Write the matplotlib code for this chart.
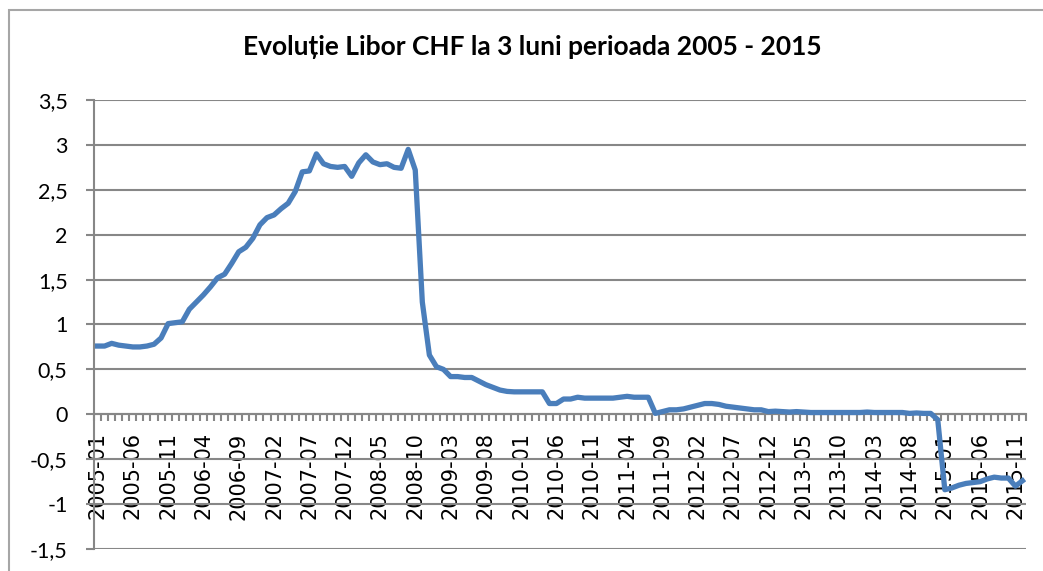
import numpy as np
import matplotlib as mpl
import matplotlib.pyplot as plt
from matplotlib.patches import Rectangle
from matplotlib.ticker import FixedLocator, FuncFormatter

# -- DATA -------------------------------------------------------------------

title = "Evoluție Libor CHF la 3 luni perioada 2005 - 2015"

months = ["%d-%02d" % (y, m) for y in range(2005, 2016) for m in range(1, 13)]

libor = [
    0.76, 0.76, 0.79, 0.77, 0.76, 0.75, 0.75, 0.76, 0.78, 0.85,
    1.01, 1.02, 1.03, 1.17, 1.25, 1.33, 1.42, 1.52, 1.56, 1.68,
    1.81, 1.86, 1.96, 2.11, 2.19, 2.22, 2.29, 2.35, 2.48, 2.70,
    2.71, 2.90, 2.79, 2.76, 2.75, 2.76, 2.65, 2.80, 2.89, 2.81,
    2.78, 2.79, 2.75, 2.74, 2.95, 2.72, 1.25, 0.66, 0.53, 0.50,
    0.42, 0.42, 0.41, 0.41, 0.37, 0.33, 0.30, 0.27, 0.255, 0.25,
    0.25, 0.25, 0.25, 0.25, 0.12, 0.12, 0.17, 0.17, 0.19, 0.18,
    0.18, 0.18, 0.18, 0.18, 0.19, 0.20, 0.19, 0.19, 0.19, 0.01,
    0.03, 0.05, 0.05, 0.06, 0.08, 0.10, 0.12, 0.12, 0.11, 0.09,
    0.08, 0.07, 0.06, 0.05, 0.05, 0.03, 0.035, 0.03, 0.025, 0.03,
    0.025, 0.02, 0.02, 0.02, 0.02, 0.02, 0.02, 0.02, 0.02, 0.025,
    0.02, 0.02, 0.02, 0.02, 0.02, 0.01, 0.015, 0.01, 0.01, -0.06,
    -0.84, -0.82, -0.79, -0.77, -0.76, -0.75, -0.72, -0.70, -0.71, -0.71,
    -0.80, -0.74,
]

y_ticks = [-1.5, -1.0, -0.5, 0.0, 0.5, 1.0, 1.5, 2.0, 2.5, 3.0, 3.5]
label_step = 5

# -- STYLE ------------------------------------------------------------------

mpl.rcParams.update({
    'font.family': ['Lato', 'DejaVu Sans'],
    'font.size': 15,
})

grid_col = '#878787'
line_col = '#4a7ebb'

W, H = 1043, 571
fig = plt.figure(figsize=(W / 100, H / 100), dpi=100)
ax = fig.add_axes([94 / W, 1 - 549 / H, (1026 - 94) / W, (549 - 100) / H])

# outer chart frame (runs past the right and bottom edge)
fig.patches.append(Rectangle((9 / W, -0.1), 1.2, 1 - 10 / H + 0.1,
                             transform=fig.transFigure, fill=False,
                             edgecolor='#a6a6a6', linewidth=1.5))

x = np.arange(len(libor))
ax.plot(x, libor, color=line_col, linewidth=3.8, solid_joinstyle='round',
        zorder=3)

ax.set_xlim(-0.5, len(libor) - 0.5)
ax.set_ylim(y_ticks[0], y_ticks[-1])

# -- Y AXIS -----------------------------------------------------------------

ax.set_yticks(y_ticks)
ax.yaxis.set_major_formatter(
    FuncFormatter(lambda v, p: ('%g' % v).replace('.', ',')))
ax.tick_params(axis='y', length=6, width=1.5, color=grid_col, pad=13,
               labelsize=15.5)
ax.grid(axis='y', color=grid_col, linewidth=1.5, zorder=1)

for s in ['top', 'right']:
    ax.spines[s].set_visible(False)
ax.spines['left'].set_color(grid_col)
ax.spines['left'].set_linewidth(1.5)

# -- X AXIS (crosses at zero) -----------------------------------------------

ax.spines['bottom'].set_position(('data', 0))
ax.spines['bottom'].set_color(grid_col)
ax.spines['bottom'].set_linewidth(1.5)

lab_pos = x[::label_step]
ax.xaxis.set_major_locator(FixedLocator(lab_pos))
ax.set_xticklabels(months[::label_step], rotation=90, family='DejaVu Sans',
                   fontsize=15)
ax.xaxis.set_minor_locator(FixedLocator(np.arange(len(libor) + 1) - 0.5))
ax.tick_params(axis='x', which='major', length=0, pad=13)
ax.tick_params(axis='x', which='minor', length=5, width=1.5,
               color=grid_col, direction='out')

fig.text(532 / W, 1 - 47 / H, title, ha='center', va='center',
         fontsize=19, fontweight='bold')

plt.savefig('out.png', dpi=100)
